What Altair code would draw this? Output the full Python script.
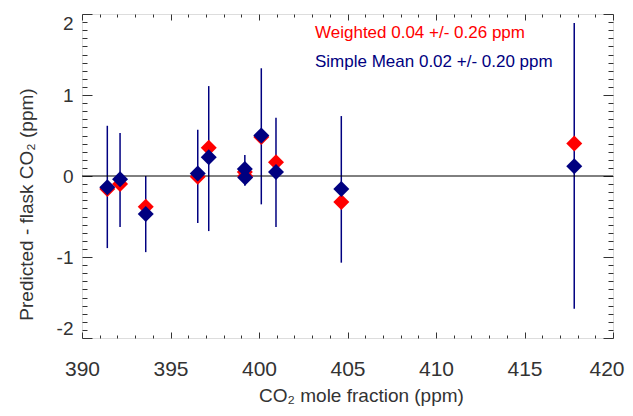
import altair as alt
import pandas as pd

# ---- data ----
co2 = [391.43, 392.15, 393.6, 396.54, 397.16, 399.2, 399.22, 400.13, 400.96, 404.65, 417.81]
simple_mean = [-0.14, -0.04, -0.47, 0.03, 0.23, 0.085, -0.02, 0.50, 0.05, -0.16, 0.12]
weighted = [-0.16, -0.10, -0.38, -0.01, 0.35, 0.05, 0.0, 0.48, 0.17, -0.32, 0.40]
err_low = [-0.89, -0.63, -0.94, -0.58, -0.68, -0.12, -0.09, -0.35, -0.63, -1.07, -1.64]
err_high = [0.62, 0.53, 0.0, 0.57, 1.11, 0.26, 0.05, 1.33, 0.72, 0.74, 1.89]

annot_weighted = ["Weighted 0.04 +/- 0.26 ppm"]
annot_simple = ["Simple Mean 0.02 +/- 0.20 ppm"]

x_major = [390, 395, 400, 405, 410, 415, 420]
x_minor = [v for v in range(390, 421) if v % 5 != 0]
y_major = [-2, -1, 0, 1, 2]
y_minor = [round(i * 0.1, 1) for i in range(-20, 21) if i % 10 != 0]

df = pd.DataFrame({"co2": co2, "simple": simple_mean, "weighted": weighted,
                   "lo": err_low, "hi": err_high})

FRAME = "#333333"
NAVY = "#000080"
RED = "#ff0000"
FONT = "Liberation Sans"

xs = alt.Scale(domain=[390, 420], nice=False, zero=False)
ys = alt.Scale(domain=[-2, 2], nice=False, zero=False)


def tick_axis(orient, values, size):
    return alt.Axis(orient=orient, values=values, tickSize=size, offset=-size,
                    labels=False, domain=False, grid=False, title="",
                    ticks=True, tickColor=FRAME, tickWidth=1)


x_main = alt.Axis(orient="bottom", values=x_major, ticks=False, domain=False, grid=False,
                  labelFontSize=21, labelColor="#333333", labelPadding=20, labelFont=FONT,
                  labelFlush=False, labelExpr="'' + datum.value",
                  labelAlign={"expr": "datum.value == 420 ? 'right' : 'center'"},
                  labelOffset={"expr": "datum.value == 420 ? 11 : 0"},
                  title="CO₂ mole fraction (ppm)", titleFontSize=19, titleFont=FONT,
                  titleFontWeight="normal", titleColor="#333333", titlePadding=7,
                  titleX=279)
y_main = alt.Axis(orient="left", values=y_major, ticks=False, domain=False, grid=False,
                  labelFontSize=19, labelColor="#333333", labelPadding=9, labelFont=FONT,
                  labelFlush=True, labelExpr="'' + datum.value",
                  title="Predicted - flask CO₂ (ppm)", titleFontSize=19, titleFont=FONT,
                  titleFontWeight="normal", titleColor="#333333", titlePadding=20,
                  titleY=190)

base = alt.Chart(df)

zero_line = alt.Chart(pd.DataFrame({"zero": [0]})).mark_rule(color="black", strokeWidth=1).encode(
    y=alt.Y("zero:Q", scale=ys, axis=None)
)

errbars = base.mark_rule(color=NAVY, strokeWidth=1.5).encode(
    x=alt.X("co2:Q", scale=xs, axis=x_main),
    y=alt.Y("lo:Q", scale=ys, axis=y_main),
    y2="hi:Q",
)

red_pts = base.mark_point(shape="diamond", filled=True, size=256, color=RED, opacity=1).encode(
    x=alt.X("co2:Q", scale=xs, axis=tick_axis("bottom", x_major, 6)),
    y=alt.Y("weighted:Q", scale=ys, axis=tick_axis("left", y_major, 10)),
)

blue_pts = base.mark_point(shape="diamond", filled=True, size=256, color=NAVY, opacity=1).encode(
    x=alt.X("co2:Q", scale=xs, axis=tick_axis("bottom", x_minor, 3)),
    y=alt.Y("simple:Q", scale=ys, axis=tick_axis("left", y_minor, 5)),
)

ghost1 = base.mark_point(opacity=0).encode(
    x=alt.X("co2:Q", scale=xs, axis=tick_axis("top", x_major, 6)),
    y=alt.Y("simple:Q", scale=ys, axis=tick_axis("right", y_major, 10)),
)
ghost2 = base.mark_point(opacity=0).encode(
    x=alt.X("co2:Q", scale=xs, axis=tick_axis("top", x_minor, 3)),
    y=alt.Y("simple:Q", scale=ys, axis=tick_axis("right", y_minor, 5)),
)

txt_w = alt.Chart(pd.DataFrame({"t": annot_weighted})).mark_text(
    align="left", baseline="middle", fontSize=17, font=FONT, color=RED
).encode(x=alt.value(233), y=alt.value(19), text="t:N")

txt_s = alt.Chart(pd.DataFrame({"t": annot_simple})).mark_text(
    align="left", baseline="middle", fontSize=17, font=FONT, color=NAVY
).encode(x=alt.value(233), y=alt.value(48), text="t:N")

chart = alt.layer(
    errbars, zero_line, red_pts, blue_pts, ghost1, ghost2, txt_w, txt_s
).resolve_axis(x="independent", y="independent").properties(
    width=531, height=324,
    autosize=alt.AutoSizeParams(type="none"),
    padding={"left": 74, "top": 6, "right": 12, "bottom": 70},
).configure_view(stroke=FRAME, strokeWidth=1).configure(background="white")

chart.save("out.html", embed_options={"renderer": "svg", "actions": False})
